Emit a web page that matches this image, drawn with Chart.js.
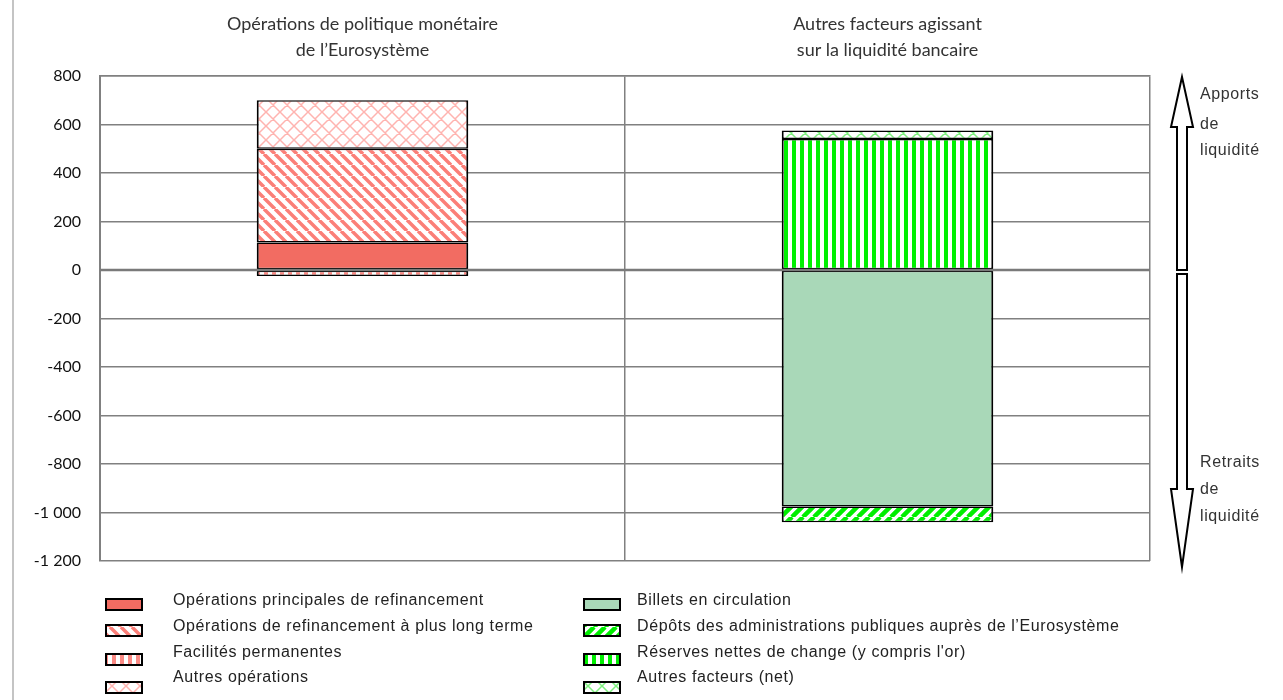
<!DOCTYPE html>
<html lang="fr">
<head>
<meta charset="utf-8">
<title>Liquidité bancaire</title>
<script src="https://cdn.jsdelivr.net/npm/chart.js@4.4.1/dist/chart.umd.min.js"></script>
<style>
  html, body { margin: 0; padding: 0; background: #fff; }
  #wrap { width: 1283px; height: 700px; }
</style>
</head>
<body>
<div id="wrap"><canvas id="chart" width="1283" height="700"></canvas></div>
<script>
// categories (top labels)
const categories = [
    ['Opérations de politique monétaire', 'de l\u2019Eurosystème'],
    ['Autres facteurs agissant', 'sur la liquidité bancaire']
];

// series values (EUR bn)
const mainRefi     = [113, null];
const longerRefi   = [387, null];
const standing     = [-25, null];
const otherOps     = [200, null];
const banknotes    = [null, -975];
const govDeposits  = [null, -65];
const netForeign   = [null, 540];
const otherFactors = [null, 35];

const legendLabels = [
    'Opérations principales de refinancement',
    'Opérations de refinancement à plus long terme',
    'Facilités permanentes',
    'Autres opérations',
    'Billets en circulation',
    'Dépôts des administrations publiques auprès de l\u2019Eurosystème',
    'Réserves nettes de change (y compris l\'or)',
    'Autres facteurs (net)'
];

const yMin = -1200, yMax = 800, yStep = 200;
const arrowTexts = [['Apports', 'de', 'liquidité'], ['Retraits', 'de', 'liquidité']];

const canvas = document.getElementById('chart');
const ctx = canvas.getContext('2d');

// pattern helpers
function tile(w, h, draw) {
    const c = document.createElement('canvas');
    c.width = w; c.height = h;
    const t = c.getContext('2d');
    t.fillStyle = '#fff';
    t.fillRect(0, 0, w, h);
    draw(t, w, h);
    return ctx.createPattern(c, 'repeat');
}
function diag(color, size, lw, forward) {
    return tile(size, size, (t, w, h) => {
        t.strokeStyle = color; t.lineWidth = lw;
        t.beginPath();
        for (let k = -1; k <= 1; k++) {
            if (forward) { t.moveTo(k * w, h); t.lineTo(k * w + w, 0); }
            else { t.moveTo(k * w, 0); t.lineTo(k * w + w, h); }
        }
        t.stroke();
    });
}
function vert(color, size, sw) {
    return tile(size, 4, (t, w, h) => {
        t.fillStyle = color;
        t.fillRect(0, 0, sw, h);
    });
}
function cross(color, size, lw) {
    return tile(size, size, (t, w, h) => {
        t.strokeStyle = color; t.lineWidth = lw;
        t.beginPath();
        for (let k = -1; k <= 1; k++) {
            t.moveTo(k * w, 0); t.lineTo(k * w + w, h);
            t.moveTo(k * w, h); t.lineTo(k * w + w, 0);
        }
        t.stroke();
    });
}

const salmon = '#f26c62';
const fills = [
    salmon,
    diag('#fb7f78', 11, 3.5, false),
    vert('#fb8a84', 8, 4),
    cross('#ffb4b0', 14, 1.5),
    '#a9d8b8',
    diag('#00ee00', 11, 4.5, true),
    vert('#00f000', 8, 4),
    cross('#7ff07f', 14, 1.5)
];

const seriesData = [mainRefi, longerRefi, standing, otherOps, banknotes, govDeposits, netForeign, otherFactors];

const datasets = seriesData.map((d, i) => ({
    label: legendLabels[i],
    data: d,
    backgroundColor: fills[i],
    borderColor: '#000',
    borderWidth: { top: 1.5, bottom: 1.5, left: 2, right: 2 },
    borderSkipped: false,
    barPercentage: 0.403,
    categoryPercentage: 1
}));

function frNumber(v) {
    const s = Math.abs(v).toString().replace(/\B(?=(\d{3})+(?!\d))/g, ' ');
    return (v < 0 ? '-' : '') + s;
}

function drawArrow(c, cx, yTail, yTip, shaftW, headW, headLen) {
    const dir = yTip < yTail ? 1 : -1;
    const yBase = yTip + dir * headLen;
    c.beginPath();
    c.moveTo(cx - shaftW / 2, yTail);
    c.lineTo(cx - shaftW / 2, yBase);
    c.lineTo(cx - headW / 2, yBase);
    c.lineTo(cx, yTip);
    c.lineTo(cx + headW / 2, yBase);
    c.lineTo(cx + shaftW / 2, yBase);
    c.lineTo(cx + shaftW / 2, yTail);
    c.closePath();
    c.fillStyle = '#fff';
    c.fill();
    c.strokeStyle = '#000';
    c.lineWidth = 2;
    c.stroke();
}

const extras = {
    id: 'extras',
    afterDatasetsDraw(chart) {
        const { ctx: c, chartArea: a, scales: { y } } = chart;
        const y0 = y.getPixelForValue(0);
        c.save();
        c.strokeStyle = '#7a7a7a';
        c.lineWidth = 2.5;
        c.beginPath();
        c.moveTo(a.left, y0);
        c.lineTo(a.right, y0);
        c.stroke();
        c.restore();
    },
    afterDraw(chart) {
        const { ctx: c, scales: { y } } = chart;
        const y0 = y.getPixelForValue(0);
        c.save();

        // page border on the left
        c.fillStyle = '#c4c4c4';
        c.fillRect(12, 0, 2, chart.height);

        // arrows on the right
        drawArrow(c, 1182, y0, y.getPixelForValue(yMax) + 1, 10, 22, 50);
        drawArrow(c, 1182, y0 + 4, y.getPixelForValue(yMin) + 6, 10, 22, 78);

        c.font = '16px "Liberation Sans", Arial, sans-serif';
        c.letterSpacing = '0.6px';
        c.fillStyle = '#333';
        c.textAlign = 'left';
        c.textBaseline = 'middle';
        [95, 125, 151].forEach((ty, i) => c.fillText(arrowTexts[0][i], 1200, ty));
        [463, 490, 517].forEach((ty, i) => c.fillText(arrowTexts[1][i], 1200, ty));

        // legend, two columns of four
        const textY = [601, 627, 653, 678];
        const boxY = [604, 630, 659, 687];
        const cols = [{ bx: 106, tx: 173 }, { bx: 584, tx: 637 }];
        c.font = '16px "Liberation Sans", Arial, sans-serif';
        c.letterSpacing = '0.6px';
        chart.data.datasets.forEach((ds, i) => {
            const col = cols[Math.floor(i / 4)];
            const r = i % 4;
            c.fillStyle = ds.backgroundColor;
            c.fillRect(col.bx, boxY[r] - 5, 36, 11);
            c.strokeStyle = '#000';
            c.lineWidth = 2;
            c.strokeRect(col.bx, boxY[r] - 5, 36, 11);
            c.fillStyle = '#222';
            c.fillText(ds.label, col.tx, textY[r]);
        });
        c.restore();
    }
};

new Chart(ctx, {
    type: 'bar',
    data: { labels: categories, datasets: datasets },
    options: {
        responsive: false,
        animation: false,
        layout: { padding: { left: 0, right: 133, top: 0, bottom: 139 } },
        plugins: { legend: { display: false }, tooltip: { enabled: false } },
        scales: {
            x: {
                stacked: true,
                position: 'top',
                grid: { color: '#808080', lineWidth: 1.5, drawTicks: false },
                border: { color: '#808080', width: 1.5 },
                ticks: {
                    color: '#333',
                    padding: 13,
                    font: { family: 'Lato, "Open Sans", sans-serif', size: 18, lineHeight: 1.45 }
                },
                afterFit(scale) { scale.height = 76; }
            },
            y: {
                stacked: true,
                min: yMin,
                max: yMax,
                grid: { color: '#808080', lineWidth: 1.5, drawTicks: false },
                border: { color: '#808080', width: 2 },
                ticks: {
                    stepSize: yStep,
                    color: '#111',
                    padding: 19,
                    font: { family: 'Lato, "Open Sans", sans-serif', size: 16 },
                    callback: v => frNumber(v)
                },
                afterFit(scale) { scale.width = 100; }
            }
        }
    },
    plugins: [extras]
});
</script>
</body>
</html>
